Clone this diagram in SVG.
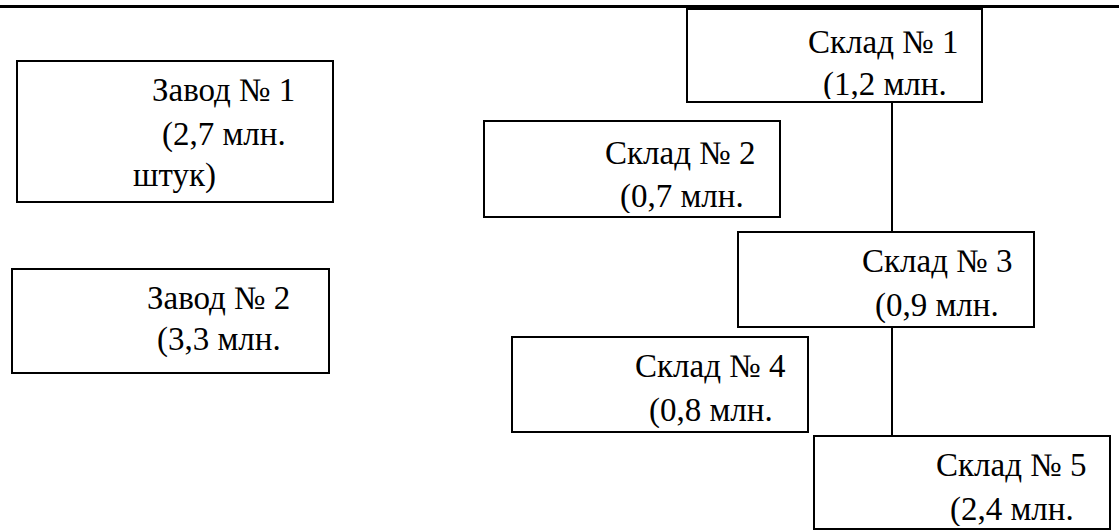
<svg xmlns="http://www.w3.org/2000/svg" width="1119" height="530" viewBox="0 0 1119 530">
<style>
.box{fill:#fff;stroke:#000;stroke-width:2}
.t{font-family:"Liberation Serif","Times New Roman",serif;font-size:33px;fill:#000}
.c{stroke:#000;stroke-width:2;fill:none}
</style>
<defs>
<clipPath id="cs1"><rect x="688" y="10" width="294" height="89"/></clipPath>
<clipPath id="cs2"><rect x="485" y="122" width="294" height="91"/></clipPath>
<clipPath id="cs3"><rect x="739" y="233" width="294" height="90"/></clipPath>
<clipPath id="cs4"><rect x="513" y="338" width="294" height="90"/></clipPath>
<clipPath id="cs5"><rect x="815" y="437" width="294" height="89"/></clipPath>
</defs>
<rect width="1119" height="530" fill="#fff"/>
<line x1="0" y1="6.5" x2="1119" y2="6.5" stroke="#000" stroke-width="3"/>
<g id="connectors">
<line x1="892" y1="8" x2="892" y2="10" stroke="#999" stroke-width="1"/>
<line class="c" x1="892" y1="103" x2="892" y2="232"/>
<line class="c" x1="892" y1="327" x2="892" y2="436"/>
</g>
<g id="zavod1">
<rect class="box" x="17" y="61" width="316" height="141"/>
<text class="t" x="152" y="101">Завод № 1</text>
<text class="t" x="162" y="145">(2,7 млн.</text>
<text class="t" x="133" y="186">штук)</text>
</g>
<g id="zavod2">
<rect class="box" x="12" y="269" width="317" height="104"/>
<text class="t" x="147" y="309">Завод № 2</text>
<text class="t" x="157" y="350">(3,3 млн.</text>
</g>
<g id="sklad1">
<rect class="box" x="687" y="9" width="295" height="93"/>
<g clip-path="url(#cs1)">
<text class="t" x="808" y="53">Склад № 1</text>
<text class="t" x="823" y="95">(1,2 млн.</text>
</g>
</g>
<g id="sklad2">
<rect class="box" x="484" y="121" width="296" height="96"/>
<g clip-path="url(#cs2)">
<text class="t" x="605" y="164">Склад № 2</text>
<text class="t" x="620" y="207">(0,7 млн.</text>
</g>
</g>
<g id="sklad3">
<rect class="box" x="738" y="232" width="296" height="95"/>
<g clip-path="url(#cs3)">
<text class="t" x="862" y="272">Склад № 3</text>
<text class="t" x="875" y="316">(0,9 млн.</text>
</g>
</g>
<g id="sklad4">
<rect class="box" x="512" y="337" width="296" height="95"/>
<g clip-path="url(#cs4)">
<text class="t" x="635" y="377">Склад № 4</text>
<text class="t" x="649" y="421">(0,8 млн.</text>
</g>
</g>
<g id="sklad5">
<rect class="box" x="814" y="436" width="296" height="93"/>
<g clip-path="url(#cs5)">
<text class="t" x="936" y="476">Склад № 5</text>
<text class="t" x="950" y="520">(2,4 млн.</text>
</g>
</g>
</svg>
